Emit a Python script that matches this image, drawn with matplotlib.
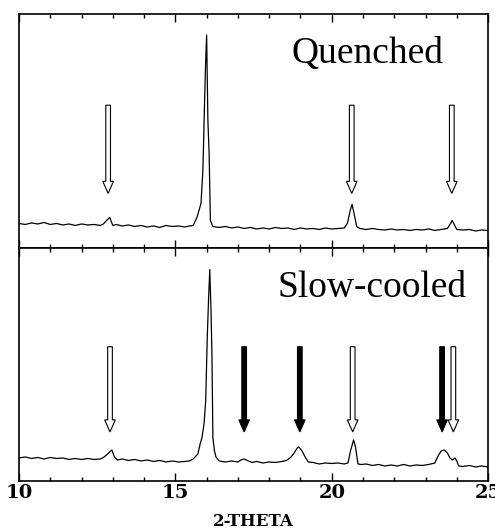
import numpy as np
import matplotlib.pyplot as plt
from matplotlib.ticker import MultipleLocator

plt.rcParams['font.family'] = ['Liberation Serif', 'DejaVu Serif']

# Quenched pattern (2-theta, intensity in arbitrary units)
q_theta = [10.0, 10.2, 10.4, 10.6, 10.8, 11.0, 11.2, 11.4, 11.6, 11.8, 12.0, 12.2, 12.4, 12.6,
           12.7, 12.8, 12.9, 13.0, 13.1, 13.3, 13.5, 13.7, 13.9, 14.1, 14.3, 14.5, 14.7, 14.9,
           15.1, 15.3, 15.45, 15.57, 15.69, 15.82, 15.88, 15.92, 15.96, 16.0, 16.04, 16.08, 16.12,
           16.2, 16.4, 16.6, 16.8, 17.0, 17.2, 17.4, 17.6, 17.8, 18.0, 18.2, 18.4, 18.6, 18.8,
           19.0, 19.2, 19.4, 19.6, 19.8, 20.0, 20.2, 20.4, 20.5, 20.6, 20.65, 20.7, 20.8, 20.9,
           21.1, 21.3, 21.5, 21.7, 21.9, 22.1, 22.3, 22.5, 22.7, 22.9, 23.1, 23.3, 23.5, 23.7,
           23.8, 23.85, 23.9, 24.0, 24.2, 24.4, 24.6, 24.8, 25.0]
q_int = [24, 23, 24.5, 23.5, 25, 23, 24, 22.5, 23.5, 22, 23.5, 22.5, 23, 22,
         23.5, 27, 30, 22, 23, 21.5, 22.5, 21, 22, 20.5, 21.5, 20, 22, 21,
         21.5, 20.5, 21.5, 22, 30, 44, 77, 127, 177, 212, 127, 94, 27,
         21, 20, 21, 19.5, 20.5, 19, 20, 18.5, 19.5, 18.5, 20, 19, 19.5, 18,
         19.5, 18.5, 19, 18, 19.5, 18.5, 19, 19.5, 24, 38, 43, 36, 21, 19,
         18, 19, 18, 17.5, 18.5, 17.5, 18, 17, 18, 17.5, 18.5, 17, 18, 19,
         24, 27, 24, 18, 17.5, 18, 16.5, 17.5, 17]

# Slow-cooled pattern
s_theta = [10.0, 10.2, 10.4, 10.6, 10.8, 11.0, 11.2, 11.4, 11.6, 11.8, 12.0, 12.2, 12.4, 12.6,
           12.7, 12.8, 12.9, 12.97, 13.05, 13.15, 13.3, 13.5, 13.7, 13.9, 14.1, 14.3, 14.5, 14.7,
           14.9, 15.1, 15.3, 15.45, 15.57, 15.72, 15.8, 15.85, 15.92, 15.97, 16.02, 16.06, 16.1,
           16.14, 16.17, 16.2, 16.25, 16.3, 16.4, 16.6, 16.8, 17.0, 17.1, 17.2, 17.3, 17.45, 17.6,
           17.8, 18.0, 18.2, 18.4, 18.55, 18.7, 18.8, 18.9, 18.95, 19.05, 19.15, 19.25, 19.4, 19.6,
           19.8, 20.0, 20.2, 20.4, 20.52, 20.6, 20.7, 20.76, 20.84, 20.95, 21.1, 21.3, 21.5, 21.7,
           21.9, 22.1, 22.3, 22.5, 22.7, 22.9, 23.1, 23.3, 23.4, 23.5, 23.6, 23.7, 23.78, 23.86,
           23.94, 24.0, 24.06, 24.2, 24.4, 24.6, 24.8, 25.0]
s_int = [23, 24, 22.5, 23.5, 22, 23.5, 22.5, 23, 21.5, 22.5, 21.5, 22.5, 21.5, 22,
         23.5, 26, 29, 31, 24, 21, 22, 20.5, 21.5, 20, 21, 19.5, 20.5, 19,
         20, 19, 19.5, 20, 22, 27, 38, 43, 58, 80, 143, 180, 211,
         170, 126, 43, 30, 24, 20, 19, 20, 19, 21, 22, 20.5, 18.5, 19.5,
         18, 19, 18.5, 19.5, 20.5, 24, 28, 33, 34, 30, 24, 19, 18.5, 17,
         18, 17.5, 18, 17, 18, 30, 41, 34, 17, 16.5, 17, 15.5, 16.5, 15,
         16, 15, 16.5, 15, 16, 15.5, 16.5, 18, 25, 30, 31, 28, 23, 21,
         23, 20, 15, 14.5, 15.5, 14, 15, 14]

# arrow positions (2-theta)
q_open = [12.85, 20.64, 23.84]
s_open = [12.91, 20.67, 23.89]
s_solid = [17.2, 18.98, 23.53]

fig, (ax1, ax2) = plt.subplots(2, 1, sharex=True, figsize=(4.95, 5.29), dpi=100)
fig.subplots_adjust(left=0.0384, right=0.986, top=0.9735, bottom=0.0907, hspace=0)

def arrows(ax, xs, tail, tip, fill):
    for x in xs:
        ax.arrow(x, tail, 0, tip - tail, width=0.15, head_width=0.34, head_length=12,
                 length_includes_head=True, fc=fill, ec='black', lw=0.8, zorder=3)

ax1.plot(q_theta, q_int, color='black', lw=0.9)
arrows(ax1, q_open, 142, 54, 'white')
ax1.text(21.13, 184, 'Quenched', fontsize=27, ha='center', va='baseline')

ax2.plot(s_theta, s_int, color='black', lw=0.9)
arrows(ax2, s_open, 134, 49, 'white')
arrows(ax2, s_solid, 134, 49, 'black')
ax2.text(21.29, 184, 'Slow-cooled', fontsize=27, ha='center', va='baseline')

for ax in (ax1, ax2):
    ax.set_xlim(10, 25)
    ax.set_ylim(0, 233)
    ax.set_yticks([])
    ax.xaxis.set_major_locator(MultipleLocator(5))
    ax.xaxis.set_minor_locator(MultipleLocator(1))
    ax.tick_params(axis='x', which='both', direction='in', top=True, bottom=True, width=1)
    ax.tick_params(axis='x', which='major', length=6)
    ax.tick_params(axis='x', which='minor', length=3)
    for s in ax.spines.values():
        s.set_linewidth(1.2)

ax1.tick_params(axis='x', labelbottom=False)
ax2.set_xticks([10, 15, 20, 25])
ax2.set_xticklabels(['10', '15', '20', '25'], fontsize=14, fontweight='bold',
                    family='DejaVu Serif')
ax2.tick_params(axis='x', pad=2)
ax2.set_xlabel('2-THETA', fontsize=12, fontweight='bold', family='DejaVu Serif', labelpad=8)

fig.savefig('out.png', dpi=100)
